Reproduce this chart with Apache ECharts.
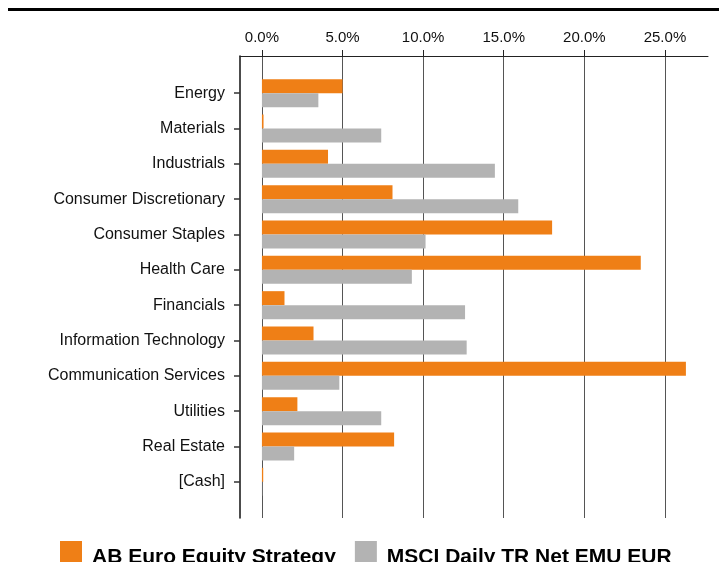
<!DOCTYPE html>
<html>
<head>
<meta charset="utf-8">
<script src="https://cdn.jsdelivr.net/npm/echarts@6/dist/echarts.min.js"></script>
<style>
  html, body { margin: 0; padding: 0; background: #fff; }
  #chart { width: 719px; height: 562px; }
</style>
</head>
<body>
<div id="chart"></div>
<script>
var sectors = ['Energy', 'Materials', 'Industrials', 'Consumer Discretionary', 'Consumer Staples',
  'Health Care', 'Financials', 'Information Technology', 'Communication Services',
  'Utilities', 'Real Estate', '[Cash]'];
var strategy = [5.0, 0.1, 4.1, 8.1, 18.0, 23.5, 1.4, 3.2, 26.3, 2.2, 8.2, 0.08];
var benchmark = [3.5, 7.4, 14.45, 15.9, 10.15, 9.3, 12.6, 12.7, 4.8, 7.4, 2.0, 0.02];
var tickValues = [0, 5, 10, 15, 20, 25];
var seriesNames = ['AB Euro Equity Strategy', 'MSCI Daily TR Net EMU EUR'];

var xMin = -1.36, xMax = 27.67;
var font = 'Liberation Sans, Arial, sans-serif';

var chart = echarts.init(document.getElementById('chart'));
chart.setOption({
  animation: false,
  graphic: [{
    type: 'line',
    shape: { x1: 8, y1: 9.5, x2: 719, y2: 9.5 },
    style: { stroke: '#000', lineWidth: 3 }
  }],
  legend: {
    data: seriesNames,
    icon: 'rect',
    left: 60,
    top: 541,
    padding: 0,
    itemWidth: 22,
    itemHeight: 22,
    itemGap: 19,
    formatter: '{t|{name}}',
    textStyle: {
      fontFamily: font, fontSize: 21, fontWeight: 'bold', color: '#000',
      rich: {
        t: { fontFamily: font, fontSize: 21, fontWeight: 'bold', color: '#000', padding: [10, 0, 0, 5] }
      }
    }
  },
  grid: [
    // frame: axis lines, ticks, gridlines
    { left: 240, top: 56, width: 468, height: 462 },
    // bars, same horizontal scale, shorter band area
    { left: 240, top: 75.5, width: 468, height: 424 }
  ],
  xAxis: [{
    gridIndex: 0,
    type: 'value',
    position: 'top',
    min: xMin,
    max: xMax,
    axisLine: { show: true, onZero: false, lineStyle: { color: '#222', width: 1 } },
    axisTick: { show: true, inside: false, length: 6, customValues: tickValues, lineStyle: { color: '#222' } },
    axisLabel: {
      customValues: tickValues,
      margin: 11,
      fontFamily: font, fontSize: 15, color: '#111',
      formatter: function (v) { return v.toFixed(1) + '%'; }
    },
    splitLine: { show: true, lineStyle: { color: '#555', width: 1 } }
  }, {
    gridIndex: 1,
    type: 'value',
    min: xMin,
    max: xMax,
    show: false
  }],
  yAxis: [{
    gridIndex: 0,
    type: 'value',
    min: 0,
    max: 1,
    axisLine: { show: true, onZero: false, lineStyle: { color: '#111', width: 1.5 } },
    axisTick: { show: false },
    axisLabel: { show: false },
    splitLine: { show: false }
  }, {
    gridIndex: 1,
    type: 'category',
    data: sectors,
    inverse: true,
    axisLine: { show: false, onZero: false },
    axisTick: { show: true, length: 6, alignWithLabel: true, lineStyle: { color: '#333', width: 1.5 } },
    axisLabel: { margin: 15, padding: [3, 0, 0, 0], fontFamily: font, fontSize: 16, color: '#111' },
    splitLine: { show: false }
  }],
  series: [{
    name: seriesNames[0],
    type: 'bar',
    xAxisIndex: 1,
    yAxisIndex: 1,
    data: strategy,
    barWidth: 14,
    barGap: '0%',
    itemStyle: { color: '#EF7F16' }
  }, {
    name: seriesNames[1],
    type: 'bar',
    xAxisIndex: 1,
    yAxisIndex: 1,
    data: benchmark,
    barWidth: 14,
    barGap: '0%',
    itemStyle: { color: '#B3B3B3' }
  }]
});
</script>
</body>
</html>
